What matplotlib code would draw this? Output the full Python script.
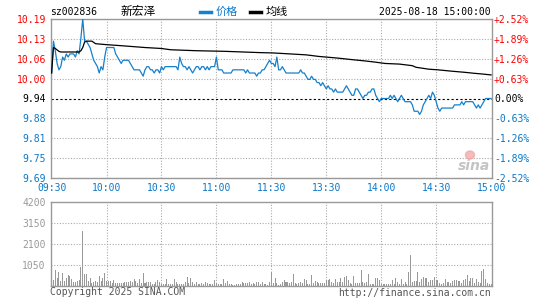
import matplotlib
matplotlib.use('Agg')
import matplotlib.pyplot as plt
from matplotlib.patches import Ellipse
import numpy as np

# ---- data (one value per minute, 09:30 .. 15:00) ----

pre_close = 9.94

price = [
    # 09:30 - 10:00
    10.02, 10.12, 10.09, 10.05, 10.03, 10.04, 10.07, 10.06, 10.08, 10.07,
    10.08, 10.08, 10.08, 10.07, 10.09, 10.08, 10.13, 10.19, 10.12, 10.12,
    10.11, 10.10, 10.08, 10.06, 10.05, 10.04, 10.02, 10.04, 10.03, 10.07,
    # 10:00 - 10:30
    10.10, 10.10, 10.10, 10.10, 10.10, 10.08, 10.07, 10.06, 10.05, 10.06,
    10.06, 10.06, 10.06, 10.05, 10.04, 10.03, 10.03, 10.03, 10.03, 10.02,
    10.01, 10.03, 10.04, 10.04, 10.03, 10.03, 10.02, 10.03, 10.03, 10.02,
    # 10:30 - 11:00
    10.04, 10.03, 10.04, 10.04, 10.04, 10.04, 10.04, 10.04, 10.04, 10.03,
    10.07, 10.05, 10.04, 10.04, 10.03, 10.04, 10.03, 10.02, 10.03, 10.04,
    10.04, 10.03, 10.04, 10.04, 10.03, 10.04, 10.03, 10.04, 10.04, 10.04,
    # 11:00 - 11:30
    10.07, 10.03, 10.03, 10.03, 10.02, 10.02, 10.02, 10.02, 10.02, 10.03,
    10.03, 10.03, 10.03, 10.03, 10.03, 10.03, 10.02, 10.03, 10.02, 10.02,
    10.02, 10.02, 10.01, 10.02, 10.02, 10.03, 10.03, 10.04, 10.05, 10.06,
    # 13:00 - 13:30
    10.05, 10.05, 10.04, 10.07, 10.03, 10.03, 10.04, 10.03, 10.02, 10.02,
    10.02, 10.02, 10.02, 10.02, 10.02, 10.02, 10.03, 10.02, 10.02, 10.01,
    10.00, 10.00, 10.01, 10.00, 10.00, 9.99, 9.99, 9.98, 9.99, 9.98,
    # 13:30 - 14:00
    9.97, 9.98, 9.97, 9.97, 9.96, 9.97, 9.96, 9.96, 9.96, 9.96,
    9.97, 9.98, 9.97, 9.96, 9.95, 9.95, 9.97, 9.97, 9.96, 9.95,
    9.94, 9.95, 9.95, 9.96, 9.96, 9.97, 9.97, 9.95, 9.94, 9.93,
    # 14:00 - 14:30
    9.94, 9.94, 9.94, 9.94, 9.94, 9.95, 9.94, 9.95, 9.94, 9.93,
    9.94, 9.95, 9.94, 9.93, 9.93, 9.93, 9.93, 9.92, 9.90, 9.90,
    9.90, 9.89, 9.90, 9.92, 9.93, 9.94, 9.95, 9.94, 9.96, 9.95,
    # 14:30 - 15:00
    9.93, 9.91, 9.90, 9.91, 9.91, 9.91, 9.91, 9.91, 9.91, 9.91,
    9.92, 9.92, 9.92, 9.92, 9.93, 9.92, 9.93, 9.93, 9.93, 9.93,
    9.93, 9.92, 9.91, 9.92, 9.91, 9.92, 9.93, 9.94, 9.94, 9.94,
    9.94,
]

# average price line (minute, value)
avg_min = [0, 1, 2, 4, 5, 15, 16, 17, 18, 19, 22, 24, 30, 35, 42, 51, 60,
           65, 79, 95, 114, 121, 130, 139, 146, 156, 164, 171, 177, 182,
           190, 197, 199, 206, 211, 218, 226, 231, 235, 240]
avg_val = [10.02, 10.10, 10.097, 10.088, 10.086, 10.086, 10.09, 10.10,
           10.117, 10.12, 10.12, 10.112, 10.109, 10.107, 10.104, 10.10,
           10.097, 10.093, 10.09, 10.088, 10.084, 10.083, 10.08, 10.077,
           10.072, 10.067, 10.062, 10.058, 10.054, 10.05, 10.048, 10.043,
           10.038, 10.032, 10.03, 10.026, 10.022, 10.019, 10.017, 10.014]

volume = [
    # 09:30 - 10:00
    8000, 280, 780, 370, 700, 230, 620, 230, 400, 530,
    500, 330, 200, 200, 230, 280, 950, 2740, 570, 570,
    250, 400, 120, 170, 230, 200, 500, 230, 400, 620,
    # 10:00 - 10:30
    230, 230, 230, 120, 280, 120, 120, 120, 150, 120,
    170, 200, 170, 230, 200, 320, 230, 120, 330, 120,
    620, 120, 170, 200, 170, 100, 70, 200, 280, 200,
    # 10:30 - 11:00
    70, 70, 70, 330, 70, 70, 70, 330, 200, 70,
    70, 70, 70, 200, 450, 120, 400, 200, 70, 200,
    70, 70, 120, 70, 170, 120, 80, 100, 80, 280,
    # 11:00 - 11:30
    120, 70, 70, 70, 330, 120, 230, 70, 70, 30,
    30, 70, 70, 70, 170, 120, 120, 120, 170, 70,
    120, 70, 170, 200, 70, 170, 80, 100, 60, 200,
    # 13:00 - 13:30
    700, 120, 400, 120, 30, 70, 200, 280, 170, 200,
    120, 200, 580, 120, 80, 120, 200, 120, 330, 280,
    70, 70, 530, 120, 230, 170, 120, 120, 120, 120,
    # 13:30 - 14:00
    280, 280, 330, 170, 120, 330, 200, 200, 370, 170,
    450, 500, 280, 120, 70, 480, 120, 120, 120, 780,
    170, 120, 200, 570, 80, 70, 70, 400, 400, 280,
    # 14:00 - 14:30
    100, 70, 70, 70, 70, 70, 280, 80, 400, 200,
    70, 330, 70, 200, 70, 700, 1530, 200, 230, 230,
    700, 200, 330, 450, 400, 400, 170, 280, 280, 450,
    # 14:30 - 15:00
    280, 280, 120, 70, 120, 330, 170, 170, 120, 230,
    280, 280, 230, 230, 120, 280, 330, 530, 230, 400,
    370, 120, 330, 200, 150, 730, 830, 330, 150, 100,
    100,
]

minutes = np.arange(len(price))

time_ticks = [0, 30, 60, 90, 120, 150, 180, 210, 240]
time_labels = ['09:30', '10:00', '10:30', '11:00', '11:30',
               '13:30', '14:00', '14:30', '15:00']

pct_steps = [2.52, 1.89, 1.26, 0.63, 0.0, -0.63, -1.26, -1.89, -2.52]
price_labels = ['10.19', '10.13', '10.06', '10.00', '9.94',
                '9.88', '9.81', '9.75', '9.69']
pct_labels = ['+2.52%', '+1.89%', '+1.26%', '+0.63%', '0.00%',
              '-0.63%', '-1.26%', '-1.89%', '-2.52%']
vol_ticks = [1050, 2100, 3150, 4200]

# ---- colours / fonts ----

red = '#ff0000'
blue = '#0a78c8'
line_blue = '#1580cc'
frame = '#999999'
grid = '#aaaaaa'
mono = 'DejaVu Sans Mono'
cjk = ['Noto Sans CJK SC', 'DejaVu Sans']

W, H = 545, 300
fig = plt.figure(figsize=(W / 100, H / 100), dpi=100)


def box(x0, y0, x1, y1):
    # pixel box -> figure fraction rect
    return [x0 / W, 1 - y1 / H, (x1 - x0) / W, (y1 - y0) / H]


# ---- price panel ----

ax = fig.add_axes(box(50.7, 18.7, 492, 178.3))
ymax = pre_close * (1 + 0.0252)
ymin = pre_close * (1 - 0.0252)
price_ticks = [pre_close * (1 + p / 100) for p in pct_steps]

ax.plot(minutes, price, color=line_blue, lw=0.9, zorder=3)
ax.plot(avg_min, avg_val, color='black', lw=0.9, zorder=3)
ax.axhline(pre_close, color='black', lw=0.8, ls=(0, (2, 2)), zorder=2)

ax.set_xlim(-0.5, 240.5)
ax.set_ylim(ymin, ymax)
ax.set_xticks(time_ticks)
ax.set_xticklabels(time_labels)
ax.set_yticks(price_ticks)
ax.set_yticklabels(price_labels)

for v in price_ticks[:4] + price_ticks[5:]:
    ax.axhline(v, color=grid, lw=0.8, ls=(0, (1, 1.5)), zorder=1)
for t in time_ticks[1:-1]:
    ax.axvline(t, color=grid, lw=0.8, ls=(0, (1, 1.5)), zorder=1)

ax.tick_params(length=0, labelsize=7, pad=3.5)
for lab in ax.get_xticklabels():
    lab.set_fontfamily(mono)
    lab.set_color(blue)
for i, lab in enumerate(ax.get_yticklabels()):
    lab.set_fontfamily(mono)
    lab.set_color(red if i < 4 else ('black' if i == 4 else blue))

for s in ax.spines.values():
    s.set_color(frame)
    s.set_linewidth(1.0)

# right side percent labels
ax2 = ax.twinx()
ax2.set_ylim(ymin, ymax)
ax2.set_yticks(price_ticks)
ax2.set_yticklabels(pct_labels)
ax2.tick_params(length=0, labelsize=7, pad=1.5)
for i, lab in enumerate(ax2.get_yticklabels()):
    lab.set_fontfamily(mono)
    lab.set_color(red if i < 4 else ('black' if i == 4 else blue))
for s in ax2.spines.values():
    s.set_visible(False)

# ---- volume panel ----

vax = fig.add_axes(box(50.7, 201.7, 492, 285.7))
vax.bar(minutes, volume, width=0.55, color='#999999', zorder=3)
vax.set_xlim(-0.5, 240.5)
vax.set_ylim(0, 4200)
vax.set_xticks([])
vax.set_yticks(vol_ticks)
vax.set_yticklabels([str(v) for v in vol_ticks])
vax.tick_params(length=0, labelsize=7, pad=3.5, labelcolor='#999999')
for lab in vax.get_yticklabels():
    lab.set_fontfamily(mono)
for v in vol_ticks[:3]:
    vax.axhline(v, color=grid, lw=0.8, ls=(0, (1, 1.5)), zorder=1)
for t in time_ticks[1:-1]:
    vax.axvline(t, color=grid, lw=0.8, ls=(0, (1, 1.5)), zorder=1)
for s in vax.spines.values():
    s.set_color(frame)
    s.set_linewidth(1.0)

# ---- header texts ----

fig.text(50 / W, 1 - 12 / H, 'sz002836', fontsize=7, family=mono,
         color='black', va='center', ha='left')
fig.text(121 / W, 1 - 12 / H, '新宏泽', fontsize=8.5, family=cjk,
         color='black', va='center', ha='left')

fig.add_artist(plt.Line2D([200 / W, 211 / W], [1 - 12 / H, 1 - 12 / H],
                          color=line_blue, lw=2.5))
fig.text(216 / W, 1 - 12 / H, '价格', fontsize=8, family=cjk,
         color=blue, va='center', ha='left')
fig.add_artist(plt.Line2D([250 / W, 261 / W], [1 - 12 / H, 1 - 12 / H],
                          color='black', lw=2.5))
fig.text(266 / W, 1 - 12 / H, '均线', fontsize=8, family=cjk,
         color='black', va='center', ha='left')

fig.text(491 / W, 1 - 12 / H, '2025-08-18 15:00:00', fontsize=7, family=mono,
         color='black', va='center', ha='right')

# ---- footer texts ----

fig.text(50 / W, 1 - 292 / H, 'Copyright 2025 SINA.COM', fontsize=7,
         family=mono, color='#555555', va='center', ha='left')
fig.text(491 / W, 1 - 293 / H, 'http://finance.sina.com.cn', fontsize=7,
         family=mono, color='#555555', va='center', ha='right')

# ---- sina watermark ----

fig.add_artist(Ellipse((470 / W, 1 - 155 / H), 9 / W, 8 / H,
                       color='#f2a0a0', alpha=0.7))
fig.text(474 / W, 1 - 166 / H, 'sina', fontsize=10, style='italic',
         weight='bold', color='#c4c4c4', va='center', ha='center')

fig.savefig('out.png', dpi=100)
